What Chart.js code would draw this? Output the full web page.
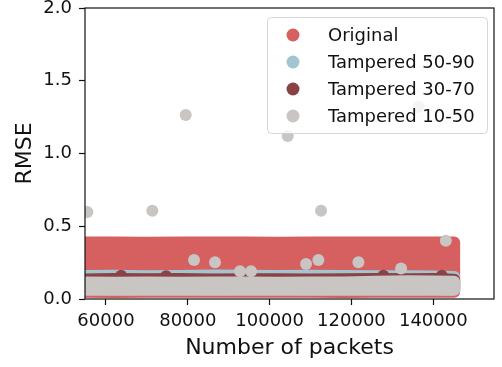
<!DOCTYPE html>
<html>
<head>
<meta charset="utf-8">
<script src="https://cdn.jsdelivr.net/npm/chart.js@4.4.0/dist/chart.umd.min.js"></script>
<style>
  html, body { margin: 0; padding: 0; background: #fff; }
  #wrap { width: 502px; height: 367px; }
</style>
</head>
<body>
<div id="wrap"><canvas id="rmseChart"></canvas></div>
<script>
const seriesNames = ['Original', 'Tampered 50-90', 'Tampered 30-70', 'Tampered 10-50'];
const seriesColors = ['#d65f5f', '#a3c5d1', '#8b4245', '#c9c5c3'];
const xTicks = [60000, 80000, 100000, 120000, 140000];
const yTicks = [0, 0.5, 1.0, 1.5, 2.0];

// edges of the dense point clouds (packets -> RMSE of the outermost point centres)
const bandPackets    = [54000, 62000, 70000, 78000, 86000, 94000, 102000, 110000, 118000, 126000, 134000, 140000, 145100];
const originalTop    = [0.388, 0.389, 0.387, 0.388, 0.389, 0.388, 0.387, 0.389, 0.388, 0.388, 0.389, 0.388, 0.388];
const originalBottom = [0.050, 0.048, 0.050, 0.049, 0.050, 0.050, 0.049, 0.050, 0.048, 0.050, 0.049, 0.050, 0.050];
const t5090Top       = [0.158, 0.160, 0.157, 0.158, 0.162, 0.160, 0.158, 0.160, 0.158, 0.156, 0.157, 0.155, 0.152];
const t5090Bottom    = [0.068, 0.067, 0.068, 0.068, 0.067, 0.068, 0.068, 0.067, 0.068, 0.068, 0.067, 0.068, 0.066];
const t3070Top       = [0.134, 0.138, 0.135, 0.137, 0.134, 0.135, 0.136, 0.134, 0.135, 0.137, 0.135, 0.138, 0.133];
const t3070Bottom    = [0.070, 0.069, 0.070, 0.070, 0.069, 0.070, 0.070, 0.069, 0.070, 0.070, 0.069, 0.070, 0.068];
const t1050Top       = [0.113, 0.112, 0.114, 0.112, 0.113, 0.113, 0.112, 0.114, 0.113, 0.118, 0.122, 0.120, 0.118];
const t1050Bottom    = [0.064, 0.063, 0.064, 0.064, 0.063, 0.064, 0.064, 0.063, 0.064, 0.064, 0.063, 0.064, 0.064];

// single points standing out of the clouds
const t3070OutPackets = [63700, 74700, 127800, 142100];
const t3070OutRmse    = [0.160, 0.156, 0.160, 0.160];
const t1050OutPackets = [55450, 71320, 79490, 81520, 86650, 92760, 95450, 104430, 108900, 111910, 112570, 121700, 132130, 136360, 143060];
const t1050OutRmse    = [0.598, 0.607, 1.265, 0.268, 0.252, 0.190, 0.190, 1.120, 0.240, 0.268, 0.607, 0.252, 0.210, 1.320, 0.400];

const FONT = 'DejaVu Sans';
const POINT_R = 6;

function bandShape(top, bottom) {
  const pts = [];
  bandPackets.forEach((x, i) => pts.push({x: x, y: top[i]}));
  for (let i = bandPackets.length - 1; i >= 0; i--) {
    pts.push({x: bandPackets[i], y: bottom[i]});
  }
  pts.push({x: bandPackets[0], y: top[0]});
  return pts;
}

function band(idx, top, bottom, order) {
  return {
    label: seriesNames[idx],
    data: bandShape(top, bottom),
    borderColor: seriesColors[idx],
    backgroundColor: seriesColors[idx],
    borderWidth: POINT_R * 2,
    borderJoinStyle: 'round',
    borderCapStyle: 'round',
    pointRadius: 0,
    fill: 'shape',
    tension: 0,
    clip: 0,
    order: order
  };
}

function points(idx, xs, ys, order) {
  return {
    label: seriesNames[idx],
    data: xs.map((x, i) => ({x: x, y: ys[i]})),
    showLine: false,
    pointRadius: POINT_R,
    pointBorderWidth: 0,
    pointBackgroundColor: seriesColors[idx],
    backgroundColor: seriesColors[idx],
    borderColor: seriesColors[idx],
    clip: 0,
    order: order
  };
}

const datasets = [
  band(0, originalTop, originalBottom, 40),
  band(1, t5090Top, t5090Bottom, 30),
  band(2, t3070Top, t3070Bottom, 21),
  points(2, t3070OutPackets, t3070OutRmse, 20),
  band(3, t1050Top, t1050Bottom, 11),
  points(3, t1050OutPackets, t1050OutRmse, 10)
];

// full axes frame, drawn over the data like matplotlib spines
const frame = {
  id: 'frame',
  afterDatasetsDraw(chart) {
    const a = chart.chartArea, ctx = chart.ctx;
    ctx.save();
    ctx.strokeStyle = '#111';
    ctx.lineWidth = 1.2;
    ctx.strokeRect(a.left, a.top, a.right - a.left, a.bottom - a.top);
    ctx.restore();
  }
};

// legend box in the upper right of the plot
const boxLegend = {
  id: 'boxLegend',
  afterDraw(chart) {
    const a = chart.chartArea, ctx = chart.ctx;
    const w = 220, h = 116;
    const x0 = a.right - 7 - w, y0 = a.top + 9;
    ctx.save();
    ctx.beginPath();
    ctx.roundRect(x0 + 0.5, y0 + 0.5, w, h, 4);
    ctx.fillStyle = 'rgba(255,255,255,0.8)';
    ctx.fill();
    ctx.strokeStyle = 'rgba(204,204,204,0.8)';
    ctx.lineWidth = 1;
    ctx.stroke();
    ctx.font = '18px "' + FONT + '"';
    ctx.textBaseline = 'middle';
    ctx.textAlign = 'left';
    seriesNames.forEach((name, i) => {
      const y = y0 + 18 + i * 27;
      ctx.beginPath();
      ctx.arc(x0 + 26, y, 6.5, 0, Math.PI * 2);
      ctx.fillStyle = seriesColors[i];
      ctx.fill();
      ctx.fillStyle = '#111';
      ctx.fillText(name, x0 + 61, y + 1);
    });
    ctx.restore();
  }
};

Chart.defaults.font.family = FONT;
Chart.defaults.color = '#111';

new Chart(document.getElementById('rmseChart'), {
  type: 'line',
  data: { datasets: datasets },
  options: {
    responsive: true,
    maintainAspectRatio: false,
    animation: false,
    events: [],
    layout: { padding: { left: 0, right: 8, top: 8, bottom: 0 } },
    plugins: { legend: { display: false }, tooltip: { enabled: false } },
    scales: {
      x: {
        type: 'linear',
        min: 54870,
        max: 154840,
        afterBuildTicks: (s) => { s.ticks = xTicks.map(v => ({value: v})); },
        afterFit: (s) => { s.height = 68; s.paddingLeft = 0; s.paddingRight = 0; },
        ticks: {
          callback: (v) => String(v),
          font: { size: 18 },
          color: '#111',
          padding: 6,
          maxRotation: 0,
          autoSkip: false
        },
        grid: { display: true, drawOnChartArea: false, drawTicks: true, tickLength: 6, tickWidth: 1.2, tickColor: '#111' },
        border: { display: false },
        title: { display: true, text: 'Number of packets', font: { size: 22 }, color: '#111', padding: { top: 0, bottom: 6 } }
      },
      y: {
        type: 'linear',
        min: 0,
        max: 2,
        afterBuildTicks: (s) => { s.ticks = yTicks.map(v => ({value: v})); },
        afterFit: (s) => { s.width = 85; s.paddingTop = 0; s.paddingBottom = 0; },
        ticks: {
          callback: (v) => v.toFixed(1),
          font: { size: 18 },
          color: '#111',
          padding: 7
        },
        grid: { display: true, drawOnChartArea: false, drawTicks: true, tickLength: 6, tickWidth: 1.2, tickColor: '#111' },
        border: { display: false },
        title: { display: true, text: 'RMSE', font: { size: 22 }, color: '#111', padding: { top: 12, bottom: 0 } }
      }
    }
  },
  plugins: [frame, boxLegend]
});
</script>
</body>
</html>
